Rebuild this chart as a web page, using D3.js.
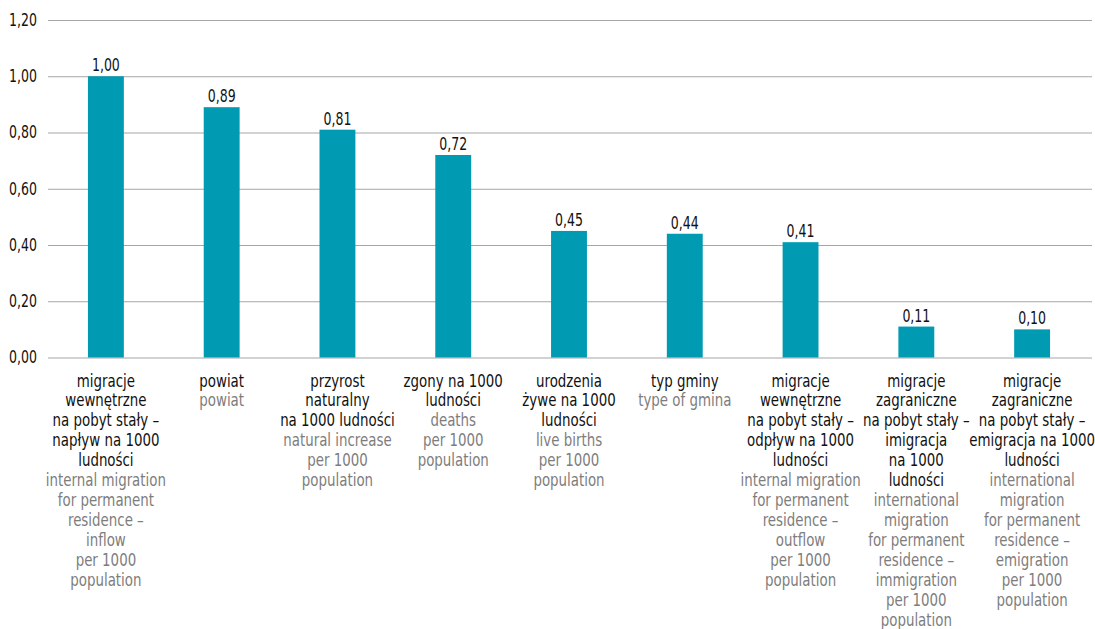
<!DOCTYPE html>
<html>
<head>
<meta charset="utf-8">
<script src="https://cdn.jsdelivr.net/npm/d3@7"></script>
<style>
  html, body { margin: 0; padding: 0; background: #fff; }
  svg { display: block; }
  text { font-family: "DejaVu Sans Condensed", "DejaVu Sans", sans-serif; font-stretch: condensed; }
</style>
</head>
<body>
<div id="chart"></div>
<script>
// values per category
var values = [1.00, 0.89, 0.81, 0.72, 0.45, 0.44, 0.41, 0.11, 0.10];

// category labels, Polish lines first, English lines below
var labelsPl = [
    ["migracje", "wewnętrzne", "na pobyt stały –", "napływ na 1000", "ludności"],
    ["powiat"],
    ["przyrost", "naturalny", "na 1000 ludności"],
    ["zgony na 1000", "ludności"],
    ["urodzenia", "żywe na 1000", "ludności"],
    ["typ gminy"],
    ["migracje", "wewnętrzne", "na pobyt stały –", "odpływ na 1000", "ludności"],
    ["migracje", "zagraniczne", "na pobyt stały –", "imigracja", "na 1000", "ludności"],
    ["migracje", "zagraniczne", "na pobyt stały –", "emigracja na 1000", "ludności"]
];
var labelsEn = [
    ["internal migration", "for permanent", "residence –", "inflow", "per 1000", "population"],
    ["powiat"],
    ["natural increase", "per 1000", "population"],
    ["deaths", "per 1000", "population"],
    ["live births", "per 1000", "population"],
    ["type of gmina"],
    ["internal migration", "for permanent", "residence –", "outflow", "per 1000", "population"],
    ["international", "migration", "for permanent", "residence –", "immigration", "per 1000", "population"],
    ["international", "migration", "for permanent", "residence –", "emigration", "per 1000", "population"]
];

var yTicks = [0, 0.2, 0.4, 0.6, 0.8, 1.0, 1.2];

var width = 1095, height = 629;
var margin = {top: 20, right: 3, bottom: 271.5, left: 48};
var innerW = width - margin.left - margin.right,
    innerH = height - margin.top - margin.bottom;

// narrow the glyphs a bit more than the condensed face does
var numSx = 0.82, labSx = 0.875;

var fmt = function (v) { return d3.format(".2f")(v).replace(".", ","); };

var svg = d3.select("#chart")
    .append("svg")
    .attr("width", width)
    .attr("height", height)
    .append("g")
    .attr("transform", "translate(" + margin.left + "," + margin.top + ")");

var x = d3.scaleBand()
    .domain(d3.range(values.length))
    .range([0, innerW - 2])
    .paddingInner(0.69)
    .paddingOuter(0.345);

var y = d3.scaleLinear()
    .domain([0, 1.2])
    .range([innerH, 0]);

// gridlines + y tick labels
var yAxis = svg.append("g")
    .call(d3.axisLeft(y).tickValues(yTicks).tickSize(-innerW).tickFormat(fmt).tickPadding(11));
yAxis.select(".domain").remove();
yAxis.selectAll(".tick line")
    .attr("stroke", "#a6a6a6")
    .attr("stroke-width", 1.2);
yAxis.selectAll(".tick text")
    .attr("fill", "#111")
    .attr("x", -11 / numSx)
    .attr("transform", "scale(" + numSx + ",1)")
    .style("font-size", "17px")
    .style("font-family", null);

// bars
svg.append("g")
    .selectAll("rect")
    .data(values)
    .enter().append("rect")
    .attr("x", function (d, i) { return x(i); })
    .attr("y", function (d) { return y(d); })
    .attr("width", x.bandwidth())
    .attr("height", function (d) { return y(0) - y(d); })
    .attr("fill", "#009bb3");

// value labels
svg.append("g")
    .selectAll("text")
    .data(values)
    .enter().append("text")
    .attr("transform", function (d, i) {
        return "translate(" + (x(i) + x.bandwidth() / 2) + "," + (y(d) - 5) + ") scale(" + numSx + ",1)";
    })
    .attr("text-anchor", "middle")
    .attr("fill", "#111")
    .style("font-size", "17px")
    .text(fmt);

// x category labels
var lineH = 20;
var cat = svg.append("g")
    .attr("transform", "translate(0," + (innerH + 29) + ")")
    .selectAll("text")
    .data(values)
    .enter().append("text")
    .attr("transform", function (d, i) {
        return "translate(" + (x(i) + x.bandwidth() / 2) + ",0) scale(" + labSx + ",1)";
    })
    .attr("text-anchor", "middle")
    .style("font-size", "17px");

cat.each(function (d, i) {
    var t = d3.select(this);
    var lines = labelsPl[i].map(function (s) { return {s: s, c: "#111"}; })
        .concat(labelsEn[i].map(function (s) { return {s: s, c: "#7d7d7d"}; }));
    lines.forEach(function (l, k) {
        t.append("tspan")
            .attr("x", 0)
            .attr("y", k * lineH)
            .attr("fill", l.c)
            .text(l.s);
    });
});
</script>
</body>
</html>
